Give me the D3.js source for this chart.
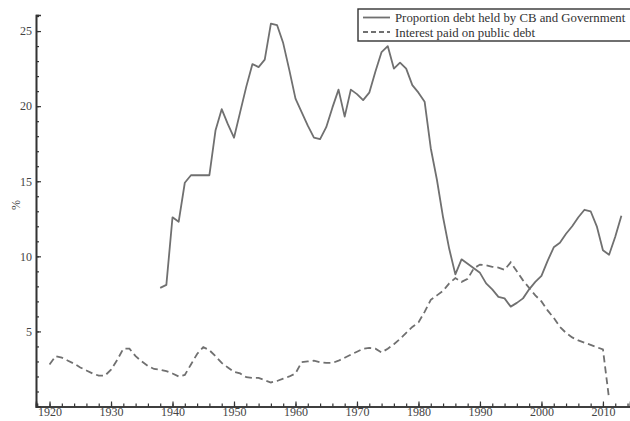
<!DOCTYPE html>
<html>
<head>
<meta charset="utf-8">
<script src="https://cdn.jsdelivr.net/npm/d3@7"></script>
<style>
  html, body { margin: 0; padding: 0; background: #fff; }
  svg { display: block; font-family: "Liberation Serif", "DejaVu Serif", serif; }
</style>
</head>
<body>
<svg id="chart" width="630" height="421"></svg>
<script>
// proportion of debt held by CB and government (%), 1938-2013
const debtYears = d3.range(1938, 2014);
const debtValues = [
  7.9, 8.1, 12.6, 12.3, 14.9, 15.4, 15.4, 15.4, 15.4, 18.4,
  19.8, 18.8, 17.9, 19.6, 21.3, 22.8, 22.6, 23.1, 25.5, 25.4,
  24.2, 22.4, 20.5, 19.6, 18.7, 17.9, 17.8, 18.6, 19.9, 21.1,
  19.3, 21.1, 20.8, 20.4, 20.9, 22.3, 23.6, 24.0, 22.5, 22.9,
  22.5, 21.4, 20.9, 20.3, 17.2, 15.1, 12.6, 10.5, 8.8, 9.8,
  9.5, 9.2, 8.9, 8.2, 7.8, 7.3, 7.2, 6.65, 6.9, 7.2,
  7.8, 8.3, 8.7, 9.7, 10.6, 10.9, 11.5, 12.0, 12.6, 13.1,
  13.0, 12.0, 10.4, 10.1, 11.3, 12.7
];

// interest paid on public debt (%), 1920-2011
const interestYears = d3.range(1920, 2012);
const interestValues = [
  2.8, 3.35, 3.25, 3.05, 2.85, 2.6, 2.4, 2.2, 2.05, 2.05,
  2.45, 3.1, 3.85, 3.85, 3.35, 3.0, 2.7, 2.5, 2.45, 2.35,
  2.2, 2.0, 2.1, 2.8, 3.5, 3.95, 3.75, 3.35, 2.9, 2.6,
  2.3, 2.2, 1.95, 1.9, 1.9, 1.75, 1.6, 1.7, 1.85, 2.0,
  2.2, 2.95, 3.0, 3.05, 2.95, 2.9, 2.9, 3.05, 3.25, 3.45,
  3.65, 3.85, 3.9, 3.85, 3.6, 3.85, 4.15, 4.5, 4.9, 5.3,
  5.6, 6.3, 7.1, 7.4, 7.7, 8.2, 8.55, 8.3, 8.5, 9.2,
  9.45, 9.4, 9.3, 9.25, 9.1, 9.6, 9.0, 8.4, 7.9, 7.4,
  7.0, 6.4, 5.9, 5.3, 4.9, 4.6, 4.4, 4.25, 4.1, 3.95,
  3.8, 0.5
];

const xTicks = d3.range(1920, 2011, 10);
const yTicks = [5, 10, 15, 20, 25];
const legendLabels = ["Proportion debt held by CB and Government", "Interest paid on public debt"];

const svg = d3.select("#chart");

const x = d3.scaleLinear().domain([1917.8, 2014.4]).range([36, 630]);
const y = d3.scaleLinear().domain([0, 26.07]).range([406.5, 15]);

const axisColor = "#333";
const lineColor = "#707070";

// --------------------------------------------------
// AXES
// --------------------------------------------------

const xMinor = svg.append("g")
  .attr("transform", "translate(0,406.5)")
  .call(d3.axisBottom(x).tickValues(d3.range(1918, 2015, 2)).tickSize(-3).tickFormat(""));

const xAxis = svg.append("g")
  .attr("transform", "translate(0,406.5)")
  .call(d3.axisBottom(x).tickValues(xTicks).tickSize(-5).tickPadding(1).tickFormat(d3.format("d")));

const yMinor = svg.append("g")
  .attr("transform", "translate(36,0)")
  .call(d3.axisLeft(y).tickValues(d3.range(1, 27)).tickSize(-3).tickFormat(""));

const yAxis = svg.append("g")
  .attr("transform", "translate(36,0)")
  .call(d3.axisLeft(y).tickValues(yTicks).tickSize(-5).tickPadding(4));

[xMinor, xAxis, yMinor, yAxis].forEach(g => {
  g.select(".domain").attr("stroke", axisColor).attr("stroke-width", 1.6);
  g.selectAll(".tick line").attr("stroke", axisColor).attr("stroke-width", 1.2);
  g.selectAll(".tick text")
    .attr("fill", "#444")
    .attr("font-size", 12)
    .attr("font-family", "Liberation Serif, serif");
});

svg.append("text")
  .attr("transform", "translate(20,205) rotate(-90)")
  .attr("text-anchor", "middle")
  .attr("font-size", 12)
  .attr("fill", "#444")
  .text("%");

// --------------------------------------------------
// LINES
// --------------------------------------------------

const line = d3.line()
  .x(d => x(d[0]))
  .y(d => y(d[1]));

svg.append("path")
  .datum(debtYears.map((yr, i) => [yr, debtValues[i]]))
  .attr("fill", "none")
  .attr("stroke", lineColor)
  .attr("stroke-width", 1.8)
  .attr("stroke-linejoin", "round")
  .attr("d", line);

svg.append("path")
  .datum(interestYears.map((yr, i) => [yr, interestValues[i]]))
  .attr("fill", "none")
  .attr("stroke", lineColor)
  .attr("stroke-width", 1.8)
  .attr("stroke-dasharray", "7,4")
  .attr("d", line);

// --------------------------------------------------
// LEGEND
// --------------------------------------------------

const legend = svg.append("g").attr("transform", "translate(358,9)");

legend.append("rect")
  .attr("width", 290)
  .attr("height", 32)
  .attr("fill", "#fff")
  .attr("stroke", axisColor)
  .attr("stroke-width", 1.4);

legendLabels.forEach((label, i) => {
  const yy = 8.5 + i * 14.5;
  legend.append("line")
    .attr("x1", 5).attr("x2", 32)
    .attr("y1", yy).attr("y2", yy)
    .attr("stroke", lineColor)
    .attr("stroke-width", 1.8)
    .attr("stroke-dasharray", i === 1 ? "5,3" : null);
  legend.append("text")
    .attr("x", 37)
    .attr("y", yy + 4.5)
    .attr("font-size", 12.8)
    .attr("fill", "#333")
    .text(label);
});
</script>
</body>
</html>
